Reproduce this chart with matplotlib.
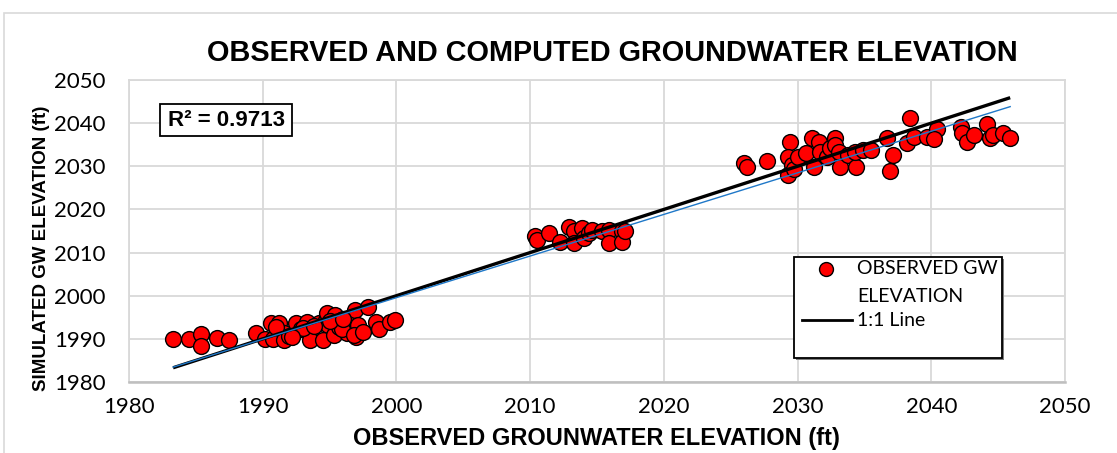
import numpy as np
import matplotlib
matplotlib.use("Agg")
import matplotlib.pyplot as plt
from matplotlib.patches import Rectangle
from matplotlib.lines import Line2D

# observed vs simulated groundwater elevation (ft)
observed = [
    1983.3, 1984.5, 1985.4, 1985.4, 1986.6, 1987.5, 1989.5, 1990.2, 1990.6, 1991.2,
    1990.8, 1991.6, 1991.6, 1992.5, 1992.9, 1993.3, 1993.5, 1993.5, 1994.2, 1994.7,
    1994.8, 1995.4, 1994.9, 1994.5, 1995.3, 1995.7, 1996.3, 1996.5, 1996.9, 1997.0,
    1997.1, 1997.9, 1998.5, 1998.7, 1999.5, 1999.9, 1992.0, 1993.0, 1995.9, 1996.8,
    1991.0, 1992.2, 1993.8, 1995.0, 1996.0, 1997.5,
    2010.4, 2010.5, 2011.4, 2012.2, 2012.9, 2013.3, 2013.3, 2013.9, 2014.0, 2014.4,
    2014.6, 2015.4, 2015.9, 2015.9, 2016.9, 2016.9, 2017.1,
    2026.0, 2026.2, 2027.7, 2029.4, 2029.3, 2029.6, 2029.3, 2029.7, 2030.0, 2030.6,
    2031.1, 2031.6, 2031.2, 2031.7, 2032.2, 2032.4, 2032.8, 2032.8, 2033.1, 2033.2,
    2033.8, 2034.4, 2034.3, 2034.9, 2035.5, 2036.7, 2037.1, 2036.9, 2038.2, 2038.4,
    2038.7, 2039.7, 2040.4, 2040.2, 2042.2, 2042.3, 2042.7, 2043.2, 2044.2, 2044.4,
    2044.6, 2045.4, 2045.9,
]
simulated = [
    1989.9, 1989.9, 1991.1, 1988.4, 1990.1, 1989.7, 1991.4, 1989.9, 1993.6, 1993.6,
    1989.9, 1991.4, 1989.7, 1993.6, 1992.4, 1994.0, 1991.3, 1989.7, 1993.6, 1994.4,
    1995.9, 1995.5, 1993.2, 1989.7, 1990.9, 1992.8, 1991.3, 1993.6, 1996.7, 1990.5,
    1993.2, 1997.5, 1994.0, 1992.4, 1994.0, 1994.4, 1990.6, 1992.5, 1992.2, 1991.0,
    1992.7, 1990.4, 1993.0, 1994.1, 1994.5, 1991.6,
    2013.8, 2012.8, 2014.5, 2012.5, 2016.0, 2014.9, 2012.3, 2015.6, 2013.3, 2014.6,
    2015.2, 2014.9, 2015.2, 2012.2, 2015.1, 2012.5, 2014.9,
    2030.7, 2029.9, 2031.2, 2035.7, 2032.2, 2030.3, 2028.0, 2029.3, 2032.1, 2033.0,
    2036.5, 2035.7, 2029.9, 2033.2, 2032.2, 2034.2, 2036.5, 2034.9, 2033.4, 2029.9,
    2032.6, 2029.9, 2033.4, 2033.8, 2033.8, 2036.5, 2032.6, 2028.8, 2035.3, 2041.1,
    2036.9, 2036.9, 2038.6, 2036.3, 2039.2, 2037.6, 2035.7, 2037.3, 2039.8, 2036.5,
    2037.3, 2037.6, 2036.5,
]
r2_text = "R² = 0.9713"
ticks = [1980, 1990, 2000, 2010, 2020, 2030, 2040, 2050]

obs = np.array(observed)
sim = np.array(simulated)

W, H = 1117, 453
fig = plt.figure(figsize=(W / 100, H / 100), dpi=100)

def fx(px):
    return px / W

def fy(py):
    return 1 - py / H

# outer chart frame
fig.add_artist(Rectangle((fx(4), fy(470)), fx(1130), fy(13) - fy(470),
                         transform=fig.transFigure, fill=False,
                         edgecolor="#D9D9D9", lw=1.2, clip_on=False))

ax = fig.add_axes([fx(129), fy(382), fx(1065) - fx(129), fy(80) - fy(382)])
ax.set_xlim(1980, 2050)
ax.set_ylim(1980, 2050)
ax.set_xticks(ticks)
ax.set_yticks(ticks)
ax.grid(True, color="#D9D9D9", lw=1.3)
ax.set_axisbelow(True)
for side in ["top", "right", "left"]:
    ax.spines[side].set_color("#D9D9D9")
    ax.spines[side].set_linewidth(1.3)
ax.spines["bottom"].set_color("#BFBFBF")
ax.spines["bottom"].set_linewidth(1.8)
ax.tick_params(length=0, labelsize=16)
ax.tick_params(axis="x", pad=11)
ax.tick_params(axis="y", pad=17)
for lab in ax.get_xticklabels() + ax.get_yticklabels():
    lab.set_family("Lato")

# scatter
ax.scatter(obs, sim, s=130, c="#FF0000", edgecolors="black", linewidths=1.0, zorder=3)

# 1:1 line
line_x = np.array([obs.min(), obs.max()])
ax.plot(line_x, line_x, color="black", lw=2.4, zorder=4, solid_capstyle="butt")

# linear trendline
slope, intercept = np.polyfit(obs, sim, 1)
ax.plot(line_x, slope * line_x + intercept, color="#1F78C8", lw=1.0, zorder=5)

bold = dict(family="Liberation Sans", weight="bold")
fig.text(fx(612), fy(53), "OBSERVED AND COMPUTED GROUNDWATER ELEVATION",
         ha="center", va="center", fontsize=20.8, **bold)
fig.text(fx(596), fy(438), "OBSERVED GROUNWATER ELEVATION (ft)",
         ha="center", va="center", fontsize=17, **bold)
fig.text(fx(42), fy(248), "SIMULATED GW ELEVATION (ft)", rotation=90,
         ha="center", va="center", fontsize=13.5, **bold)

# R² box
fig.add_artist(Rectangle((fx(160), fy(136)), fx(292) - fx(160), fy(104) - fy(136),
                         transform=fig.transFigure, facecolor="white",
                         edgecolor="black", lw=1.3))
fig.text(fx(226), fy(121), r2_text, ha="center", va="center", fontsize=16, **bold)

# legend
fig.add_artist(Rectangle((fx(796), fy(360)), fx(1004) - fx(796), fy(259) - fy(360),
                         transform=fig.transFigure, facecolor="#7F7F7F",
                         edgecolor="none", zorder=5))
fig.add_artist(Rectangle((fx(794), fy(358)), fx(1002) - fx(794), fy(257) - fy(358),
                         transform=fig.transFigure, facecolor="white",
                         edgecolor="black", lw=1.3, zorder=6))
fig.add_artist(Line2D([fx(826)], [fy(269)], transform=fig.transFigure, marker="o",
                      markersize=10, markerfacecolor="#FF0000",
                      markeredgecolor="black", markeredgewidth=1.0, zorder=7))
fig.add_artist(Line2D([fx(802), fx(852)], [fy(320), fy(320)],
                      transform=fig.transFigure, color="black", lw=2.0, zorder=7))
leg_font = dict(family="Lato", fontsize=14, zorder=7)
fig.text(fx(857), fy(269), "OBSERVED GW", va="center", **leg_font)
fig.text(fx(857), fy(297), "ELEVATION", va="center", **leg_font)
fig.text(fx(857), fy(320), "1:1 Line", va="center", **leg_font)

fig.savefig("out.png", dpi=100)
